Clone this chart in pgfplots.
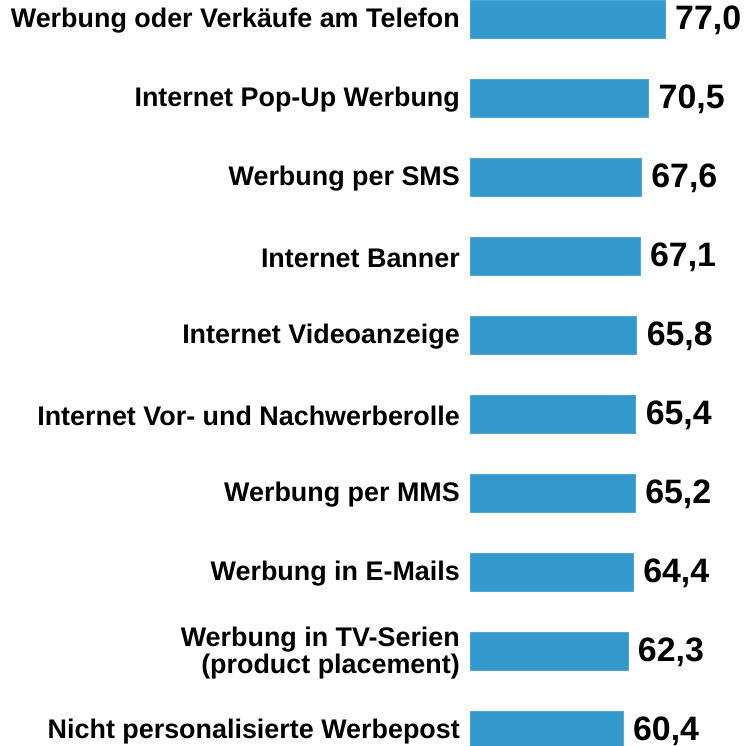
\documentclass[border=0pt]{standalone}
\usepackage{fontspec}
\setmainfont{Liberation Sans}
\usepackage{pgfplots}
\pgfplotsset{compat=1.18}
\definecolor{barblue}{RGB}{51,153,204}
\begin{document}
\begin{tikzpicture}[x=1bp,y=1bp]
\useasboundingbox (0,-746) rectangle (744,0);
\begin{axis}[
  at={(470bp,0bp)}, anchor=north west,
  scale only axis, width=253.2bp, height=769.5bp,
  xbar, bar width=0.48, bar shift=0pt,
  xmin=0, xmax=100, ymin=-0.24, ymax=9.5,
  y dir=reverse,
  clip=false,
  axis line style={draw=none},
  xtick=\empty,
  ytick={0,...,9},
  yticklabels={Werbung oder Verkäufe am Telefon, Internet Pop-Up Werbung, Werbung per SMS, Internet Banner, Internet Videoanzeige, Internet Vor- und Nachwerberolle, Werbung per MMS, Werbung in E-Mails, {Werbung in TV-Serien\\(product placement)}, Nicht personalisierte Werbepost},
  major tick length=0pt,
  y tick label style={font=\fontsize{27}{26.5}\selectfont\bfseries, align=right, inner sep=0pt, xshift=-10bp, yshift=-2bp},
  nodes near coords,
  nodes near coords style={font=\fontsize{34}{34}\selectfont\bfseries, anchor=west, inner sep=0pt, text depth=0pt, xshift=10bp, yshift=1bp, black},
  /pgf/number format/fixed,
  /pgf/number format/fixed zerofill,
  /pgf/number format/precision=1,
  /pgf/number format/use comma,
  /pgf/number format/assume math mode=true,
]
\addplot[fill=barblue, draw=barblue!85!white] coordinates {
  (77.0,0) (70.5,1) (67.6,2) (67.1,3) (65.8,4)
  (65.4,5) (65.2,6) (64.4,7) (62.3,8) (60.4,9)
};
\end{axis}
\end{tikzpicture}
\end{document}
